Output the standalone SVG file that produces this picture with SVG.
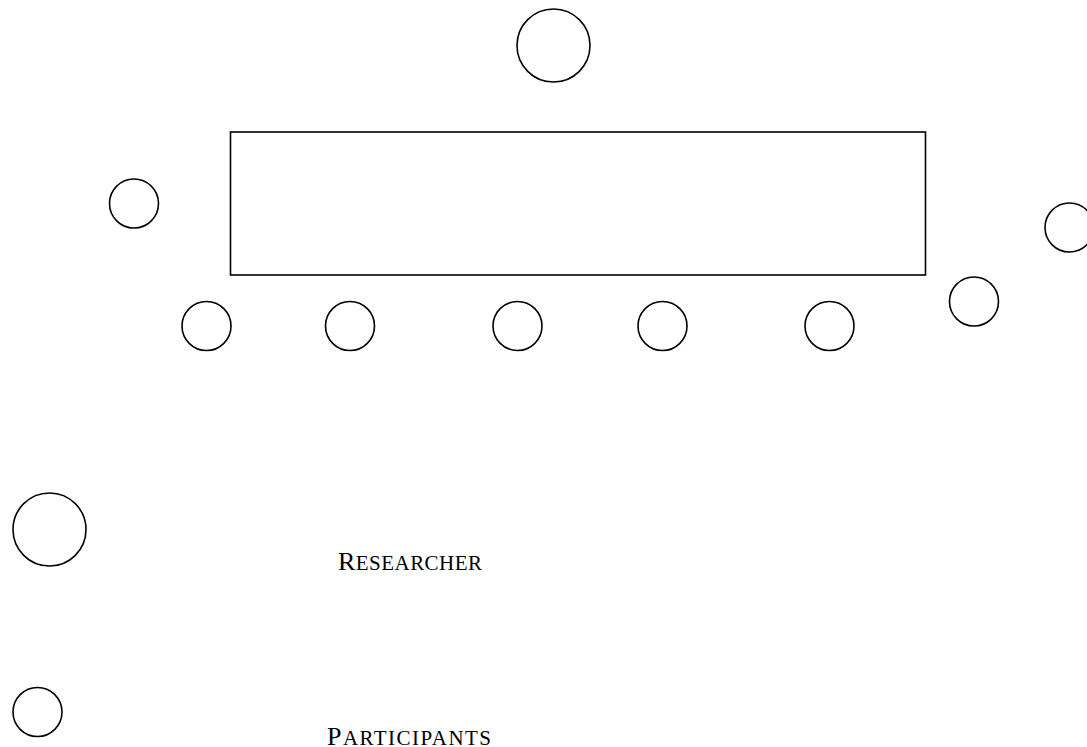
<svg xmlns="http://www.w3.org/2000/svg" width="1087" height="747" viewBox="0 0 1087 747">
<style>
.n{fill:#fff;stroke:#000;stroke-width:1.6}
.t{font-family:"Liberation Serif","Times New Roman",serif;fill:#000}
</style>
<rect width="1087" height="747" fill="#fff"/>
<g id="table"><rect class="n" x="230.5" y="132" width="695" height="143"/></g>
<g id="researcher-top"><circle class="n" cx="553.5" cy="45.5" r="36.5"/></g>
<g id="p-left"><circle class="n" cx="134" cy="203.5" r="24.5"/></g>
<g id="p-right"><circle class="n" cx="1069.5" cy="227.5" r="24.5"/></g>
<g id="p-right-low"><circle class="n" cx="974" cy="301.5" r="24.5"/></g>
<g id="p-b1"><circle class="n" cx="206.5" cy="326" r="24.5"/></g>
<g id="p-b2"><circle class="n" cx="350" cy="326" r="24.5"/></g>
<g id="p-b3"><circle class="n" cx="517.5" cy="326" r="24.5"/></g>
<g id="p-b4"><circle class="n" cx="662.5" cy="326" r="24.5"/></g>
<g id="p-b5"><circle class="n" cx="829.5" cy="326" r="24.5"/></g>
<g id="legend-researcher">
<circle class="n" cx="49.5" cy="529.5" r="36.5"/>
<text class="t" x="338" y="570" textLength="144" lengthAdjust="spacing"><tspan font-size="26">R</tspan><tspan font-size="21">ESEARCHER</tspan></text>
</g>
<g id="legend-participants">
<circle class="n" cx="37.5" cy="712" r="24.5"/>
<text class="t" x="327" y="745" textLength="164" lengthAdjust="spacing"><tspan font-size="26">P</tspan><tspan font-size="21">ARTICIPANTS</tspan></text>
</g>
<g id="connectors"></g>
</svg>
